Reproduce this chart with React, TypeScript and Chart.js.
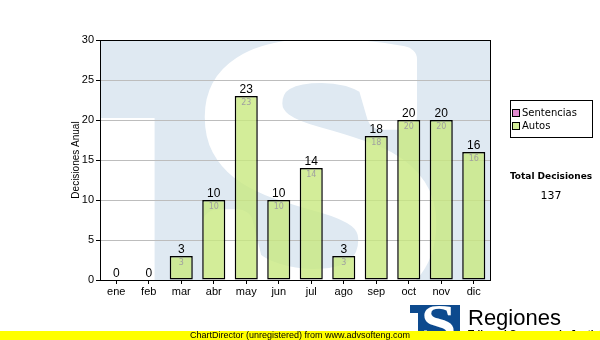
import React, { useEffect, useRef } from "react";
import { Chart, registerables } from "chart.js";

Chart.register(...registerables);

const categories = ["ene", "feb", "mar", "abr", "may", "jun", "jul", "ago", "sep", "oct", "nov", "dic"];
const autos = [0, 0, 3, 10, 23, 10, 14, 3, 18, 20, 20, 16];
const sentencias = [0, 0, 0, 0, 0, 0, 0, 0, 0, 0, 0, 0];
const seriesLabels = ["Sentencias", "Autos"];
const seriesColors = ["#e28ad0", "rgba(200,232,128,0.8)"];
const legendColors = ["#e28ad0", "#d4ec98"];
const yMax = 30;
const yStep = 5;
const yTitle = "Decisiones Anual";
const totalTitle = "Total Decisiones";
const logoText = "Regiones";
const logoSub = "Tribunal Supremo de Justicia";
const footerText = "ChartDirector (unregistered) from www.advsofteng.com";

const FONT = '"Liberation Sans", Arial, sans-serif';
const FONT2 = '"DejaVu Sans", Verdana, sans-serif';
const SFONT = 'bold 100px "Liberation Serif"';

const decorPlugin = {
  id: "decor",
  beforeDatasetsDraw(chart: any) {
    const { ctx, chartArea } = chart;
    const { left, top, right, bottom } = chartArea;
    const w = right - left;
    const h = bottom - top;
    ctx.save();
    ctx.beginPath();
    ctx.rect(left, top, w, h);
    ctx.clip();
    ctx.fillStyle = "#dfe9f2";
    ctx.fillRect(left, top, w, h);
    ctx.fillStyle = "#ffffff";
    ctx.fillRect(left, top + 0.325 * h, 0.14 * w, h);
    ctx.font = SFONT;
    const m = ctx.measureText("S");
    const gw = m.actualBoundingBoxLeft + m.actualBoundingBoxRight;
    const gh = m.actualBoundingBoxAscent + m.actualBoundingBoxDescent;
    const bx = left + 0.3 * w;
    const by = top + 0.05 * h;
    const bw = 0.53 * w;
    const bh = 1.05 * h;
    ctx.translate(bx, by);
    ctx.scale(bw / gw, bh / gh);
    ctx.strokeStyle = "#ffffff";
    ctx.lineWidth = 7;
    ctx.lineJoin = "round";
    ctx.fillText("S", m.actualBoundingBoxLeft, m.actualBoundingBoxAscent);
    ctx.strokeText("S", m.actualBoundingBoxLeft, m.actualBoundingBoxAscent);
    ctx.restore();
    const y = chart.scales.y;
    ctx.save();
    ctx.strokeStyle = "#bdbdbd";
    ctx.lineWidth = 1;
    for (let v = yStep; v < yMax; v += yStep) {
      const py = Math.round(y.getPixelForValue(v)) + 0.5;
      ctx.beginPath();
      ctx.moveTo(left, py);
      ctx.lineTo(right, py);
      ctx.stroke();
    }
    ctx.restore();
  },
  afterDraw(chart: any) {
    const { ctx, chartArea } = chart;
    const { left, top, right, bottom } = chartArea;
    ctx.save();
    ctx.strokeStyle = "#000";
    ctx.lineWidth = 1;
    ctx.strokeRect(Math.round(left) + 0.5, Math.round(top) + 0.5, Math.round(right - left), Math.round(bottom - top));

    const metaA = chart.getDatasetMeta(0);
    const metaS = chart.getDatasetMeta(1);
    categories.forEach((_, i) => {
      const total = autos[i] + sentencias[i];
      const barA = metaA.data[i];
      const barS = metaS.data[i];
      const topY = Math.min(barA.y, barS.y);
      ctx.fillStyle = "#000";
      ctx.font = `12px ${FONT}`;
      ctx.textAlign = "center";
      ctx.textBaseline = "alphabetic";
      ctx.fillText(String(total), barA.x, topY - 3);
      if (autos[i] > 0) {
        ctx.fillStyle = "#a0a0a0";
        ctx.font = `8px ${FONT2}`;
        ctx.textBaseline = "top";
        ctx.fillText(String(autos[i]), barA.x, barA.y + 3);
      }
    });

    ctx.save();
    ctx.translate(76, (top + bottom) / 2);
    ctx.rotate(-Math.PI / 2);
    ctx.fillStyle = "#000";
    ctx.font = `10px ${FONT}`;
    ctx.textAlign = "center";
    ctx.textBaseline = "middle";
    ctx.fillText(yTitle, 0, 0);
    ctx.restore();

    const lx = 510, ly = 100, lw = 82, lh = 37;
    ctx.fillStyle = "#fff";
    ctx.fillRect(lx, ly, lw, lh);
    ctx.strokeStyle = "#000";
    ctx.strokeRect(lx + 0.5, ly + 0.5, lw, lh);
    seriesLabels.forEach((lab, i) => {
      const sy = 109 + i * 13;
      ctx.fillStyle = legendColors[i];
      ctx.fillRect(512, sy, 7, 7);
      ctx.strokeStyle = "#000";
      ctx.strokeRect(512.5, sy + 0.5, 7, 7);
      ctx.fillStyle = "#000";
      ctx.font = `10px ${FONT2}`;
      ctx.textAlign = "left";
      ctx.textBaseline = "middle";
      ctx.fillText(lab, 522, sy + 4);
    });

    const total = autos.reduce((a, b) => a + b, 0) + sentencias.reduce((a, b) => a + b, 0);
    ctx.fillStyle = "#000";
    ctx.textAlign = "center";
    ctx.textBaseline = "middle";
    ctx.font = `bold 9px ${FONT2}`;
    ctx.fillText(totalTitle, 551, 177);
    ctx.font = `11px ${FONT2}`;
    ctx.fillText(String(total), 551, 196);

    ctx.fillStyle = "#0d4a8e";
    ctx.fillRect(410, 305, 50, 35);
    ctx.save();
    ctx.beginPath();
    ctx.rect(410, 305, 50, 35);
    ctx.clip();
    ctx.fillStyle = "#fff";
    ctx.fillRect(410, 313, 8, 30);
    ctx.font = SFONT;
    const m = ctx.measureText("S");
    const gw = m.actualBoundingBoxLeft + m.actualBoundingBoxRight;
    const gh = m.actualBoundingBoxAscent + m.actualBoundingBoxDescent;
    ctx.translate(424, 306);
    ctx.scale(30 / gw, 36 / gh);
    ctx.fillText("S", m.actualBoundingBoxLeft, m.actualBoundingBoxAscent);
    ctx.restore();

    ctx.fillStyle = "#000";
    ctx.textAlign = "left";
    ctx.textBaseline = "alphabetic";
    ctx.font = `22px ${FONT}`;
    ctx.fillText(logoText, 468, 325);
    ctx.font = `bold 10px ${FONT}`;
    ctx.fillText(logoSub, 468, 338);

    ctx.fillStyle = "#ffff00";
    ctx.fillRect(0, 331, 600, 9);
    ctx.fillStyle = "#000";
    ctx.textAlign = "center";
    ctx.textBaseline = "middle";
    ctx.font = `9px ${FONT}`;
    ctx.fillText(footerText, 300, 335.5);
    ctx.restore();
  },
};

export default function App() {
  const ref = useRef<HTMLCanvasElement | null>(null);
  useEffect(() => {
    document.body.style.margin = "0";
    const canvas = ref.current;
    if (!canvas) return;
    const chart = new Chart(canvas, {
      type: "bar",
      data: {
        labels: categories,
        datasets: [
          {
            label: seriesLabels[1],
            data: autos,
            backgroundColor: seriesColors[1],
            borderColor: "#000",
            borderWidth: 1.5,
            borderSkipped: false,
            categoryPercentage: 1,
            barPercentage: 0.71,
          },
          {
            label: seriesLabels[0],
            data: sentencias,
            backgroundColor: seriesColors[0],
            borderColor: "#000",
            borderWidth: 0,
            categoryPercentage: 1,
            barPercentage: 0.71,
          },
        ],
      },
      options: {
        animation: false,
        responsive: false,
        devicePixelRatio: 1,
        layout: { padding: { left: 60, right: 110, top: 40, bottom: 40 } },
        plugins: { legend: { display: false }, tooltip: { enabled: false } },
        scales: {
          x: {
            stacked: true,
            offset: true,
            grid: { drawOnChartArea: false, tickLength: 4, tickColor: "#000", offset: false },
            border: { color: "#000" },
            ticks: { color: "#000", font: { family: FONT, size: 11 }, padding: 1, maxRotation: 0 },
            afterFit: (s: any) => { s.height = 20; },
          },
          y: {
            stacked: true,
            min: 0,
            max: yMax,
            grid: { drawOnChartArea: false, tickLength: 4, tickColor: "#000" },
            border: { color: "#000" },
            ticks: { stepSize: yStep, color: "#000", font: { family: FONT, size: 11 }, padding: 2 },
            afterFit: (s: any) => { s.width = 40; },
          },
        },
      },
      plugins: [decorPlugin],
    });
    return () => chart.destroy();
  }, []);
  return (
    <div style={{ width: 600, height: 340, position: "relative", background: "#fff" }}>
      <canvas ref={ref} width={600} height={340} style={{ display: "block" }} />
    </div>
  );
}
